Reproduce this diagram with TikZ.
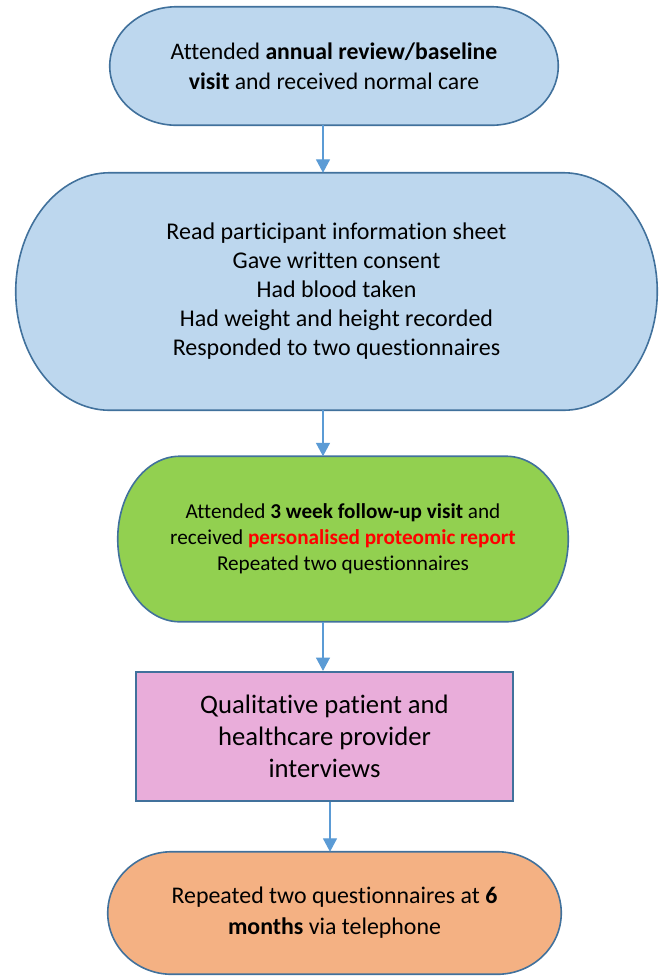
\documentclass[tikz,border=0pt]{standalone}
\usepackage{fontspec}
\setmainfont{Carlito}[Ligatures=NoCommon]
\usetikzlibrary{arrows.meta,backgrounds,calc}
\definecolor{bluefill}{HTML}{BDD7EE}
\definecolor{edgeblue}{HTML}{41719C}
\definecolor{greenfill}{HTML}{92D050}
\definecolor{pinkfill}{HTML}{E9ADDA}
\definecolor{orangefill}{HTML}{F4B183}
\definecolor{arrowblue}{HTML}{5B9BD5}
\definecolor{reportred}{HTML}{FF0000}
\tikzset{
    stage/.style =     {rectangle,
                       align=center,
                       text=black,
                       inner sep=0pt},
    capsule/.style =   {draw=edgeblue,
                       line width=1.2pt},
    interview/.style = {rectangle,
                       draw=edgeblue,
                       fill=pinkfill,
                       line width=1.6pt,
                       align=center,
                       text=black,
                       inner sep=0pt},
    flow/.style =      {draw=arrowblue,
                       line width=0.8pt,
                       -{Triangle[width=10.5pt,length=10pt]}}}

\begin{document}
\begin{tikzpicture}[x=0.75pt,y=-0.75pt]
    \useasboundingbox (0,0) rectangle (659,976);
    \node[stage, minimum width=336pt, minimum height=88.5pt,
          font=\fontsize{17.8}{22.5}\selectfont] (visit) at (334,66)
          {Attended \textbf{annual review/baseline}\\\textbf{visit} and received normal care};
    \node[stage, minimum width=480.75pt, minimum height=177.75pt,
          font=\fontsize{18}{21.75}\selectfont] (consent) at (336.5,291.5)
          {Read participant information sheet\\Gave written consent\\Had blood taken\\
           Had weight and height recorded\\Responded to two questionnaires};
    \node[stage, minimum width=337.5pt, minimum height=123.75pt,
          font=\fontsize{15.9}{19.5}\selectfont] (followup) at (343,539)
          {Attended \textbf{3 week follow-up visit} and\\
           received \textcolor{reportred}{\textbf{personalised proteomic report}}\\Repeated two questionnaires};
    \node[interview, minimum width=282.75pt, minimum height=96.75pt,
          font=\fontsize{20}{24}\selectfont] (qual) at (324.5,736.5)
          {Qualitative patient and\\healthcare provider\\interviews};
    \node[stage, minimum width=339.75pt, minimum height=91.5pt,
          font=\fontsize{17.9}{23.25}\selectfont] (sixmonth) at (334.5,913)
          {Repeated two questionnaires at \textbf{6}\\\textbf{months} via telephone};
    % rounded ends behind the texts
    \begin{scope}[on background layer]
        \foreach \s/\rx/\col in {visit/67/bluefill, consent/94/bluefill,
                                 followup/62/greenfill, sixmonth/64/orangefill}
            \path[capsule, fill=\col] let \p1=(\s.north west), \p2=(\s.south east),
                  \n1={\rx*0.75pt}, \n2={(\y1-\y2)/2} in
                  (\x1+\n1,\y1) -- (\x2-\n1,\y1)
                  arc[start angle=90, end angle=-90, x radius=\n1, y radius=\n2]
                  -- (\x1+\n1,\y2)
                  arc[start angle=270, end angle=90, x radius=\n1, y radius=\n2] -- cycle;
    \end{scope}
    \coordinate (axis) at (323,0);
    \coordinate (axislow) at (330,0);
    \draw[flow] (visit.south -| axis) -- (consent.north -| axis);
    \draw[flow] (consent.south -| axis) -- (followup.north -| axis);
    \draw[flow] (followup.south -| axis) -- (qual.north -| axis);
    \draw[flow] (qual.south -| axislow) -- (sixmonth.north -| axislow);
\end{tikzpicture}
\end{document}
